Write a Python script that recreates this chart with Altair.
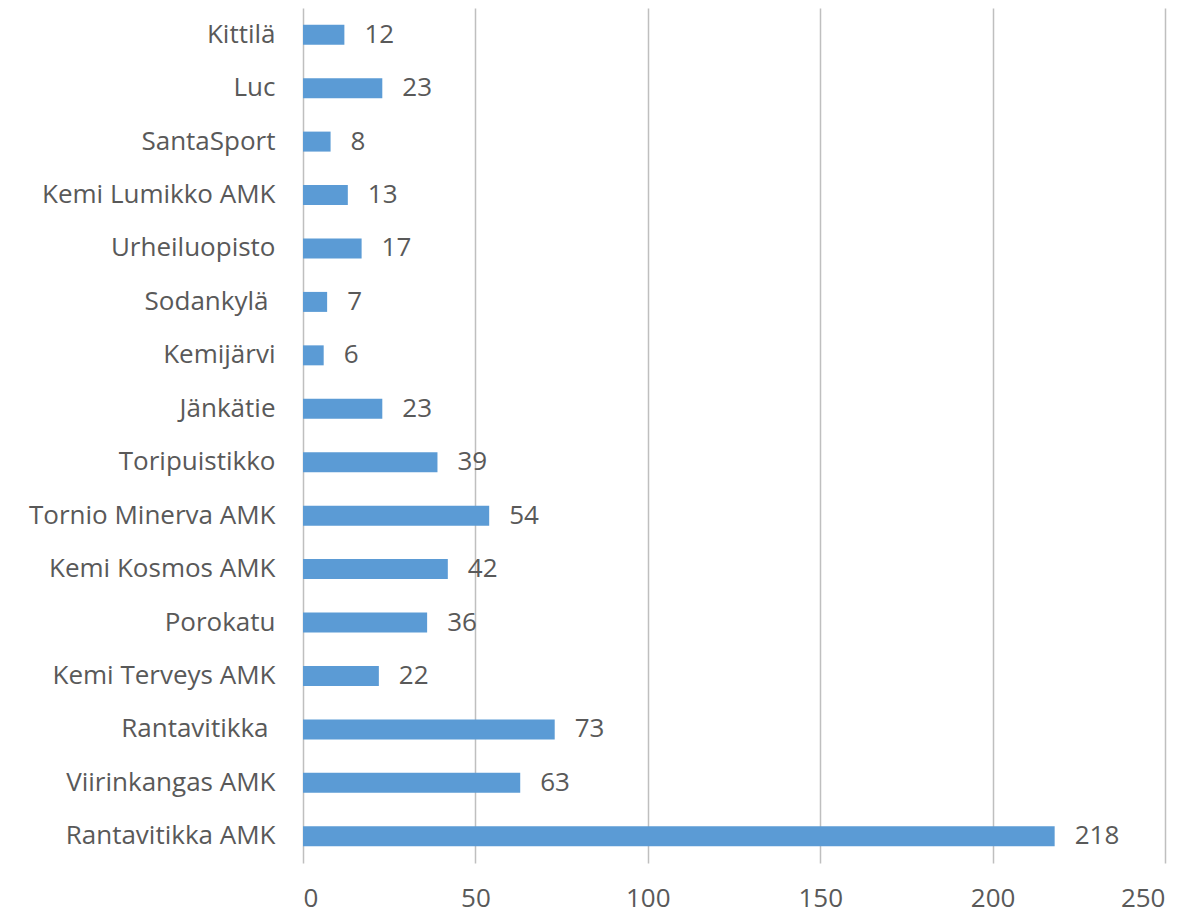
import altair as alt
import pandas as pd

categories = [
    "Kittilä", "Luc", "SantaSport", "Kemi Lumikko AMK", "Urheiluopisto",
    "Sodankylä ", "Kemijärvi", "Jänkätie", "Toripuistikko",
    "Tornio Minerva AMK", "Kemi Kosmos AMK", "Porokatu", "Kemi Terveys AMK",
    "Rantavitikka ", "Viirinkangas AMK", "Rantavitikka AMK",
]
values = [12, 23, 8, 13, 17, 7, 6, 23, 39, 54, 42, 36, 22, 73, 63, 218]
x_ticks = [0, 50, 100, 150, 200, 250]

df = pd.DataFrame({"category": categories, "value": values})

FONT = "Open Sans"
TEXT_COLOR = "#595959"

y_enc = alt.Y(
    "category:N",
    sort=categories,
    title=None,
    scale=alt.Scale(paddingInner=0.626, paddingOuter=0.313),
    axis=alt.Axis(
        domain=False, ticks=False, grid=False,
        labelFont=FONT, labelFontSize=26, labelColor=TEXT_COLOR,
        labelPadding={"condition": {"test": "test(/ $/, datum.value)", "value": 35}, "value": 28},
        labelLimit=400,
    ),
)
x_enc = alt.X(
    "value:Q",
    title=None,
    scale=alt.Scale(domain=[0, 250], nice=False),
    axis=alt.Axis(
        values=x_ticks, domain=False, ticks=False, grid=True,
        gridColor="#BFBFBF", gridWidth=1.5,
        labelFont=FONT, labelFontSize=26, labelColor=TEXT_COLOR,
        labelPadding=22,
    ),
)

bars = alt.Chart(df).mark_bar(color="#5B9BD5").encode(x=x_enc, y=y_enc)
labels = alt.Chart(df).mark_text(
    align="left", baseline="middle", dx=20, font=FONT, fontSize=26, color=TEXT_COLOR
).encode(x=alt.X("value:Q"), y=alt.Y("category:N", sort=categories), text="value:Q")

chart = (
    alt.layer(bars, labels)
    .properties(
        width=862, height=855,
        autosize=alt.AutoSizeParams(type="none"),
        padding={"left": 295, "top": 0, "right": 10, "bottom": 50},
    )
    .configure_view(stroke=None)
)

chart.save("out.html", embed_options={"renderer": "svg", "actions": False})
